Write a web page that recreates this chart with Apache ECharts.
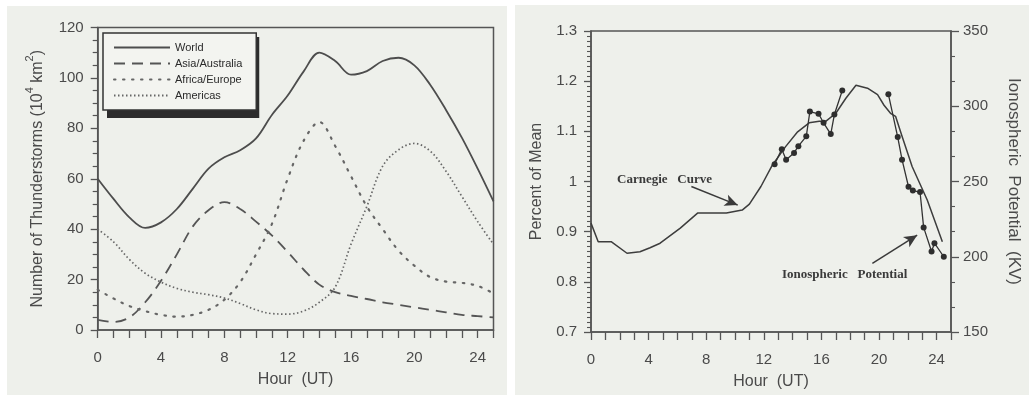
<!DOCTYPE html>
<html><head><meta charset="utf-8">
<script src="https://cdn.jsdelivr.net/npm/echarts@6/dist/echarts.min.js"></script>
<style>html,body{margin:0;padding:0;background:#fff}#c{width:1029px;height:395px}</style>
</head><body><div id="c"></div>
<script>
// ---------- Left chart data ----------
const hours = [0,1,2,3,4,5,6,7,8,9,10,11,12,13,14,15,16,17,18,19,20,21,22,23,24,25];
const world    = [60,52,44.7,40.5,42.7,48,56,64,68.5,71.3,76,85.3,93,102.5,110,106.7,101.3,102.7,106.7,108,105,97.3,87.3,76.3,64,51];
const asiaAus  = [4,3.2,5,11,19.5,30,41,47.5,50.7,48,43,37.5,31,24,18,15,13.5,12.3,11,10,9,8,7,6,5.5,5];
const africaEu = [16,12.5,9.5,7.5,6,5.3,6,8,12,19,30,42,60,75,82.5,73,61,49,40,31.5,25.5,21,19.2,18.7,17.5,14.5];
const americas = [40,35,28,22.5,19,16.5,15,14,12.7,10.5,8,6.5,6.3,7.5,11,17,34,49,65,71.5,74,71,63,53,43,34];
const leftNames = ['World','Asia/Australia','Africa/Europe','Americas'];

// ---------- Right chart data ----------
const carnegieHours = [0,0.5,1.4,2.5,3.4,4.1,4.8,6.2,7.4,9.4,10.5,11.0,11.8,12.6,13.5,14.35,15.15,15.85,16.3,17.0,17.7,18.4,19.2,19.9,20.35,20.8,21.15,21.6,22.3,23.35,24.4];
const carnegieVals  = [0.917,0.88,0.88,0.857,0.86,0.868,0.877,0.907,0.937,0.937,0.943,0.955,0.99,1.033,1.069,1.099,1.117,1.12,1.12,1.136,1.166,1.192,1.186,1.173,1.152,1.136,1.13,1.09,1.03,0.963,0.88];
const ionHours = [12.75,13.25,13.55,14.1,14.4,14.95,15.2,15.8,16.15,16.65,16.9,17.45,19,20.65,21.3,21.6,22.05,22.35,22.85,23.1,23.65,23.85,24.5];
const ionKV    = [261.5,271.5,264.5,269,273.5,280,296.5,295,289,281.5,294.5,310.5,null,308,279.5,264.5,246.5,244,243,219.5,203.5,209,200];

const xTicksLabels = [0,4,8,12,16,20,24];
const arrowCarnegie = [[6.97,0.99],[10.19,0.953]];
const arrowIon = [[19.54,0.837],[22.65,0.893]];

const FONT = '"Liberation Sans", Arial, sans-serif';
const AX = '#555';
const lab = {color:'#4a4a4a', fontFamily:FONT, fontSize:15};

// legend box geometry (shadow drawn behind it)
const LG = {left:103, top:33, pad:[9,14,9,10], iw:56, ih:12, gap:5, font:'11px "Liberation Sans", Arial, sans-serif'};
const mctx = document.createElement('canvas').getContext('2d');
mctx.font = LG.font;
const maxTw = Math.max.apply(null, leftNames.map(n => mctx.measureText(n).width));
const LGW = LG.pad[3] + LG.iw + 5 + maxTw + LG.pad[1];
const LGH = LG.pad[0] + leftNames.length * LG.ih + (leftNames.length - 1) * LG.gap + LG.pad[2];

function xAxisCfg(gi){
  return {
    type:'value', gridIndex:gi, min:0, max:25, interval:1,
    axisLine:{show:true, onZero:false, lineStyle:{color:AX, width:1.5}},
    axisTick:{show:true, length:8, lineStyle:{color:AX, width:1.3}},
    splitLine:{show:false},
    axisLabel:Object.assign({margin:20, formatter:v => xTicksLabels.indexOf(v) >= 0 ? String(v) : ''}, lab),
    name:'Hour  (UT)', nameLocation:'middle', nameGap:42,
    nameTextStyle:{color:'#4a4a4a', fontFamily:FONT, fontSize:16}
  };
}

const pairs = (xs, ys) => xs.map((x,i) => [x, ys[i] === null ? '-' : ys[i]]);

const chart = echarts.init(document.getElementById('c'), null, {renderer:'canvas'});
chart.setOption({
  animation:false,
  backgroundColor:'#ffffff',
  graphic:[
    {type:'rect', z:-10, shape:{x:7, y:6, width:500, height:389}, style:{fill:'#eef0eb'}},
    {type:'rect', z:-10, shape:{x:515, y:5, width:514, height:390}, style:{fill:'#eef0eb'}},
    {type:'rect', z:-5, shape:{x:LG.left + 4, y:LG.top + 4, width:LGW, height:LGH}, style:{fill:'#2c2c2c'}},
    {type:'text', z:100, left:617, top:173, style:{text:'Carnegie   Curve', font:'bold 13px "Liberation Serif", "Times New Roman", serif', fill:'#3a3a3a'}},
    {type:'text', z:100, left:782, top:268, style:{text:'Ionospheric   Potential', font:'bold 13px "Liberation Serif", "Times New Roman", serif', fill:'#3a3a3a'}}
  ],
  legend:{
    data:leftNames, orient:'vertical', left:LG.left, top:LG.top,
    padding:LG.pad, itemGap:LG.gap, itemWidth:LG.iw, itemHeight:LG.ih,
    backgroundColor:'#f3f4f0', borderColor:'#333', borderWidth:1.5,
    selectedMode:false,
    itemStyle:{opacity:0},
    textStyle:{fontFamily:FONT, fontSize:11, color:'#2a2a2a'}
  },
  grid:[
    {left:97.7, top:27.5, width:395.8, height:302.5, show:true, borderColor:AX, borderWidth:1.5, backgroundColor:'transparent'},
    {left:591, top:31, width:360, height:301, show:true, borderColor:AX, borderWidth:1.5, backgroundColor:'transparent'}
  ],
  xAxis:[xAxisCfg(0), xAxisCfg(1)],
  yAxis:[
    {type:'value', gridIndex:0, min:0, max:120, interval:20,
     axisLine:{show:true, lineStyle:{color:AX, width:1.5}},
     axisTick:{show:true, length:7, lineStyle:{color:AX, width:1.3}},
     minorTick:{show:true, splitNumber:4, length:5, lineStyle:{color:AX, width:1.2}},
     splitLine:{show:false},
     axisLabel:Object.assign({margin:14}, lab),
     name:'{a|Number of Thunderstorms (10}{s|4}{a| km}{s|2}{a|)}',
     nameLocation:'middle', nameGap:52,
     nameTextStyle:{rich:{
       a:{fontSize:16, color:'#4a4a4a', fontFamily:FONT, lineHeight:21, verticalAlign:'bottom'},
       s:{fontSize:11, color:'#4a4a4a', fontFamily:FONT, lineHeight:21, verticalAlign:'top'}
     }}},
    {type:'value', gridIndex:1, position:'left', min:0.7, max:1.3, interval:0.1,
     axisLine:{show:true, lineStyle:{color:AX, width:1.5}},
     axisTick:{show:true, length:7, lineStyle:{color:AX, width:1.3}},
     minorTick:{show:true, splitNumber:10, length:4, lineStyle:{color:AX, width:1.1}},
     splitLine:{show:false},
     axisLabel:Object.assign({margin:14}, lab),
     name:'Percent of Mean', nameLocation:'middle', nameGap:46,
     nameTextStyle:{color:'#4a4a4a', fontFamily:FONT, fontSize:16}},
    {type:'value', gridIndex:1, position:'right', min:150, max:350, interval:50,
     axisLine:{show:true, lineStyle:{color:AX, width:1.5}},
     axisTick:{show:true, length:8, lineStyle:{color:AX, width:1.3}},
     minorTick:{show:true, splitNumber:3, length:4, lineStyle:{color:AX, width:1.1}},
     splitLine:{show:false},
     axisLabel:Object.assign({margin:12}, lab),
     name:'Ionospheric  Potential  (KV)', nameLocation:'middle', nameGap:54, nameRotate:-90,
     nameTextStyle:{color:'#4a4a4a', fontFamily:FONT, fontSize:17}}
  ],
  series:[
    {name:leftNames[0], type:'line', xAxisIndex:0, yAxisIndex:0, data:pairs(hours, world), smooth:0.35, symbol:'none',
     lineStyle:{color:'#4d4d4d', width:1.8, type:'solid'}, itemStyle:{color:'#4d4d4d'}},
    {name:leftNames[1], type:'line', xAxisIndex:0, yAxisIndex:0, data:pairs(hours, asiaAus), smooth:0.35, symbol:'none',
     lineStyle:{color:'#555', width:1.8, type:[11,7]}, itemStyle:{color:'#555'}},
    {name:leftNames[2], type:'line', xAxisIndex:0, yAxisIndex:0, data:pairs(hours, africaEu), smooth:0.35, symbol:'none',
     lineStyle:{color:'#666', width:2.2, type:[1.5,7.5], cap:'round'}, itemStyle:{color:'#666'}},
    {name:leftNames[3], type:'line', xAxisIndex:0, yAxisIndex:0, data:pairs(hours, americas), smooth:0.35, symbol:'none',
     lineStyle:{color:'#666', width:1.7, type:[1.5,2.5]}, itemStyle:{color:'#666'}},
    {name:'Carnegie Curve', type:'line', xAxisIndex:1, yAxisIndex:1, data:pairs(carnegieHours, carnegieVals), symbol:'none',
     lineStyle:{color:'#3d3d3d', width:1.5}, itemStyle:{color:'#3d3d3d'},
     markLine:{silent:true, animation:false, symbol:['none','arrow'], symbolSize:[9,13],
       label:{show:false}, lineStyle:{color:'#3a3a3a', width:1.5, type:'solid'}, emphasis:{disabled:true},
       data:[
         [{coord:arrowCarnegie[0]},{coord:arrowCarnegie[1]}],
         [{coord:arrowIon[0]},{coord:arrowIon[1]}]
       ]}},
    {name:'Ionospheric Potential', type:'line', xAxisIndex:1, yAxisIndex:2, data:pairs(ionHours, ionKV), connectNulls:false,
     symbol:'circle', symbolSize:6, showSymbol:true,
     lineStyle:{color:'#333', width:1.3}, itemStyle:{color:'#2e2e2e'}}
  ]
});
</script></body></html>
